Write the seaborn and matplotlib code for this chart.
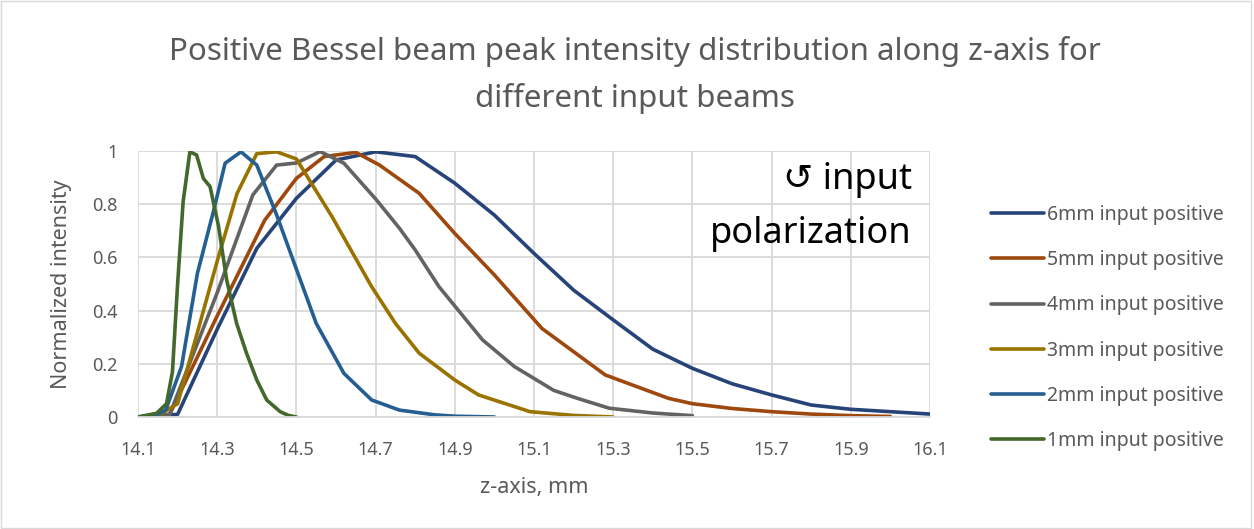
import matplotlib
matplotlib.use("Agg")
import matplotlib.pyplot as plt
import matplotlib.patches as mpatches
import pandas as pd
import numpy as np
import seaborn as sns

# peak intensity vs z (mm)
z_6mm = [14.1, 14.2, 14.3, 14.4, 14.5, 14.6, 14.7, 14.8, 14.9, 15.0, 15.1, 15.2, 15.3, 15.4, 15.5, 15.6, 15.7, 15.8, 15.9, 16.0, 16.1]
v_6mm = [0.0, 0.01, 0.33, 0.634, 0.822, 0.966, 0.997, 0.979, 0.879, 0.759, 0.615, 0.477, 0.365, 0.255, 0.183, 0.125, 0.083, 0.045, 0.029, 0.02, 0.011]

z_5mm = [14.1, 14.15, 14.18, 14.3, 14.42, 14.5, 14.57, 14.65, 14.71, 14.81, 14.9, 15.0, 15.12, 15.28, 15.44, 15.5, 15.6, 15.7, 15.8, 15.9, 16.0]
v_5mm = [0.0, 0.003, 0.01, 0.38, 0.74, 0.897, 0.979, 0.995, 0.947, 0.841, 0.69, 0.534, 0.333, 0.158, 0.07, 0.05, 0.032, 0.02, 0.011, 0.005, 0.002]

z_4mm = [14.1, 14.18, 14.3, 14.39, 14.45, 14.5, 14.56, 14.62, 14.7, 14.76, 14.8, 14.86, 14.97, 15.05, 15.15, 15.21, 15.29, 15.4, 15.5]
v_4mm = [0.0, 0.01, 0.467, 0.835, 0.947, 0.955, 0.998, 0.954, 0.82, 0.71, 0.628, 0.49, 0.29, 0.19, 0.10, 0.07, 0.033, 0.015, 0.005]

z_3mm = [14.1, 14.15, 14.2, 14.3, 14.35, 14.4, 14.45, 14.5, 14.59, 14.69, 14.75, 14.81, 14.9, 14.96, 15.09, 15.2, 15.3]
v_3mm = [0.0, 0.005, 0.05, 0.586, 0.84, 0.99, 0.997, 0.97, 0.753, 0.49, 0.352, 0.24, 0.139, 0.083, 0.02, 0.006, 0.0]

z_2mm = [14.1, 14.15, 14.17, 14.21, 14.25, 14.29, 14.32, 14.36, 14.4, 14.45, 14.51, 14.55, 14.62, 14.69, 14.76, 14.85, 14.9, 15.0]
v_2mm = [0.0, 0.01, 0.026, 0.19, 0.54, 0.77, 0.954, 0.997, 0.947, 0.76, 0.515, 0.352, 0.164, 0.064, 0.026, 0.008, 0.003, 0.0]

z_1mm = [14.1, 14.147, 14.172, 14.187, 14.2, 14.214, 14.231, 14.248, 14.265, 14.282, 14.303, 14.324, 14.349, 14.374, 14.4, 14.425, 14.459, 14.48, 14.5]
v_1mm = [0.0, 0.014, 0.05, 0.17, 0.5, 0.81, 0.997, 0.985, 0.897, 0.866, 0.72, 0.515, 0.352, 0.24, 0.139, 0.064, 0.02, 0.006, 0.0]

labels = ["6mm input positive", "5mm input positive", "4mm input positive",
          "3mm input positive", "2mm input positive", "1mm input positive"]
colors = ["#264478", "#9E480E", "#636363", "#997300", "#255E91", "#43682B"]

series = [(z_6mm, v_6mm), (z_5mm, v_5mm), (z_4mm, v_4mm),
          (z_3mm, v_3mm), (z_2mm, v_2mm), (z_1mm, v_1mm)]
frames = []
for lab, (zz, vv) in zip(labels, series):
    frames.append(pd.DataFrame({"z": zz, "intensity": vv, "beam": lab}))
df = pd.concat(frames, ignore_index=True)

x_ticks = [14.1, 14.3, 14.5, 14.7, 14.9, 15.1, 15.3, 15.5, 15.7, 15.9, 16.1]
y_ticks = [0, 0.2, 0.4, 0.6, 0.8, 1.0]
y_ticklabels = ["0", "0.2", "0.4", "0.6", "0.8", "1"]

sns.set_style("white")
plt.rcParams["font.family"] = ["Noto Sans", "DejaVu Sans"]
txt_gray = "#595959"
grid_gray = "#d9d9d9"

fig = plt.figure(figsize=(12.54, 5.29), dpi=100)
ax = fig.add_axes([138 / 1254, 1 - 417 / 529, 792 / 1254, 266 / 529])

sns.lineplot(data=df, x="z", y="intensity", hue="beam", hue_order=labels,
             palette=dict(zip(labels, colors)), linewidth=2.6, estimator=None,
             sort=False, ax=ax)

ax.set_xlim(14.1, 16.1)
ax.set_ylim(0, 1)
ax.set_xticks(x_ticks)
ax.set_xticklabels([f"{t:.1f}" for t in x_ticks])
ax.set_yticks(y_ticks)
ax.set_yticklabels(y_ticklabels)
ax.grid(True, color=grid_gray, linewidth=1.3)
ax.set_axisbelow(True)
for s in ["top", "right", "left"]:
    ax.spines[s].set_visible(False)
ax.spines["bottom"].set_color(grid_gray)
ax.spines["bottom"].set_linewidth(1.3)
ax.tick_params(axis="both", length=0, labelsize=13, colors=txt_gray)
ax.tick_params(axis="x", pad=17)
ax.tick_params(axis="y", pad=15)

ax.set_xlabel("z-axis, mm", fontsize=15.5, color=txt_gray)
ax.set_ylabel("Normalized intensity", fontsize=15.5, color=txt_gray)
ax.xaxis.set_label_coords(0.5, -0.225)
ax.yaxis.set_label_coords(-0.083, 0.5)

ax.text(0.977, 0.958, "\u21ba input\npolarization", transform=ax.transAxes,
        ha="right", va="top", fontsize=26, color="black", linespacing=1.65,
        family=["Noto Sans", "DejaVu Sans"])

fig.text(0.506, 1 - 75 / 529,
         "Positive Bessel beam peak intensity distribution along z-axis for\ndifferent input beams",
         ha="center", va="center", fontsize=22.5, color=txt_gray, linespacing=1.65)

sns.move_legend(ax, loc="center left", bbox_to_anchor=(991 / 1254, 1 - 328 / 529),
                bbox_transform=fig.transFigure, frameon=False, title=None,
                fontsize=14, labelspacing=1.3, handlelength=2.75,
                handletextpad=0.15, borderpad=0, borderaxespad=0)
for line in ax.get_legend().get_lines():
    line.set_linewidth(2.6)
for t in ax.get_legend().get_texts():
    t.set_color(txt_gray)

fig.patches.append(mpatches.Rectangle((0.001, 0.002), 0.997, 0.996, transform=fig.transFigure,
                                      fill=False, edgecolor=grid_gray, linewidth=1))

fig.savefig("out.png", dpi=100)
